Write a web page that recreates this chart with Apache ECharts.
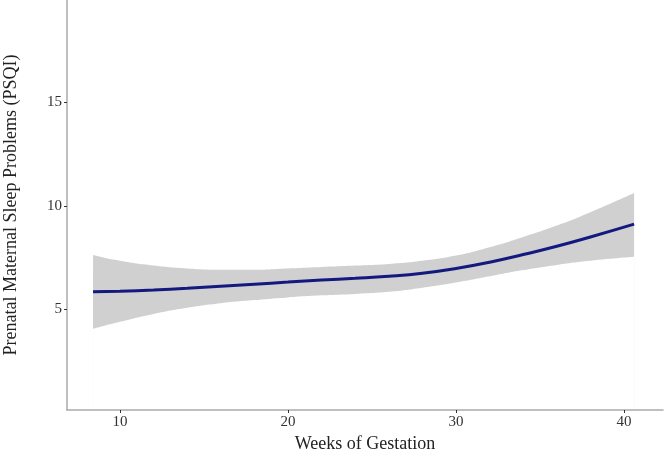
<!DOCTYPE html>
<html>
<head>
<meta charset="utf-8">
<script src="https://cdn.jsdelivr.net/npm/echarts@6/dist/echarts.min.js"></script>
<style>
  html, body { margin: 0; padding: 0; background: #fff; }
  #chart { width: 665px; height: 454px; }
</style>
</head>
<body>
<div id="chart"></div>
<script>
// weeks of gestation where the curve was read
const weeks = [8.4, 10, 12, 14, 16, 18, 20, 22, 24, 26, 28, 30, 32, 34, 36, 38, 40.6];
// fitted line (PSQI)
const fit = [5.85, 5.88, 5.94, 6.02, 6.12, 6.22, 6.32, 6.42, 6.5, 6.6, 6.75, 6.98, 7.28, 7.65, 8.05, 8.5, 9.12];
// confidence band
const upper = [7.63, 7.35, 7.12, 6.98, 6.92, 6.92, 6.98, 7.05, 7.12, 7.2, 7.35, 7.6, 8.0, 8.5, 9.05, 9.7, 10.63];
const lower = [4.06, 4.4, 4.78, 5.08, 5.3, 5.45, 5.58, 5.68, 5.75, 5.85, 6.05, 6.3, 6.6, 6.9, 7.15, 7.35, 7.54];
// tick labels
const xTicks = [10, 20, 30, 40];
const yTicks = [5, 10, 15];

const chart = echarts.init(document.getElementById('chart'));
const serif = '"Liberation Serif", "DejaVu Serif", serif';

const option = {
  backgroundColor: '#fff',
  animation: false,
  grid: { left: 67, right: 2, top: 0, bottom: 44, outerBoundsMode: 'none', containLabel: false },
  xAxis: {
    type: 'value',
    z: 10,
    min: 6.85,
    max: 42.32,
    name: 'Weeks of Gestation',
    nameLocation: 'middle',
    nameGap: 21,
    nameTextStyle: { fontFamily: serif, fontSize: 18, color: '#222' },
    axisLine: { lineStyle: { color: '#aaa', width: 1.5 } },
    axisTick: { customValues: xTicks, length: 3, lineStyle: { color: '#333' } },
    axisLabel: { customValues: xTicks, fontFamily: serif, fontSize: 15, color: '#333', margin: 5 },
    splitLine: { show: false }
  },
  yAxis: {
    type: 'value',
    z: 10,
    min: 0.14,
    max: 19.95,
    name: 'Prenatal Maternal Sleep Problems (PSQI)',
    nameLocation: 'middle',
    nameGap: 47,
    nameTextStyle: { fontFamily: serif, fontSize: 18, color: '#222' },
    axisLine: { show: true, lineStyle: { color: '#aaa', width: 1.5 } },
    axisTick: { show: true, customValues: yTicks, length: 3, lineStyle: { color: '#333' } },
    axisLabel: { customValues: yTicks, fontFamily: serif, fontSize: 15, color: '#333', margin: 5 },
    splitLine: { show: false }
  },
  series: [
    {
      // upper edge of the band, filled grey down to the axis
      type: 'line',
      z: 1,
      data: weeks.map((w, i) => [w, upper[i]]),
      smooth: true,
      symbol: 'none',
      lineStyle: { width: 0, opacity: 0 },
      areaStyle: { color: '#d0d0d0', opacity: 1 }
    },
    {
      // lower edge, white fill cuts the band out
      type: 'line',
      z: 2,
      data: weeks.map((w, i) => [w, lower[i]]),
      smooth: true,
      symbol: 'none',
      lineStyle: { width: 0, opacity: 0 },
      areaStyle: { color: '#ffffff', opacity: 1 }
    },
    {
      type: 'line',
      z: 3,
      data: weeks.map((w, i) => [w, fit[i]]),
      smooth: true,
      symbol: 'none',
      lineStyle: { color: '#14197f', width: 3 }
    }
  ]
};

chart.setOption(option);
window.addEventListener('resize', chart.resize);
</script>
</body>
</html>
